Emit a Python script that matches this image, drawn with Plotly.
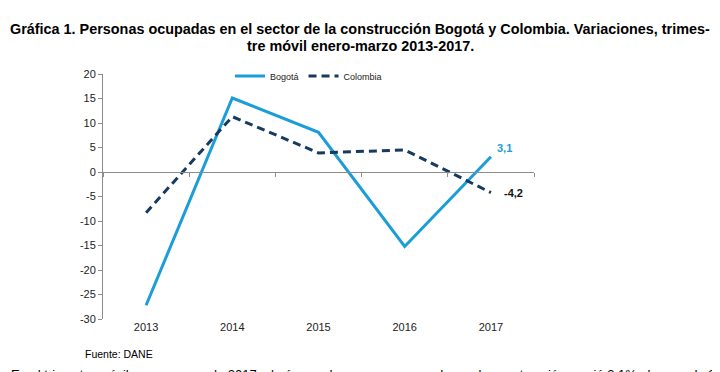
import plotly.graph_objects as go

years = ["2013", "2014", "2015", "2016", "2017"]
bogota = [-27.2, 15.1, 8.1, -15.2, 3.1]
colombia = [-8.3, 11.3, 3.9, 4.5, -4.2]
y_ticks = [20, 15, 10, 5, 0, -5, -10, -15, -20, -25, -30]
y_ticktext = [str(v) for v in y_ticks]
label_bogota = "3,1"
label_colombia = "-4,2"

BLUE = "#1B9DD9"
NAVY = "#173A5E"
GRAY = "#8C8C8C"
FONT = "Liberation Sans, Arial, sans-serif"

# page offset (body margin) and plot area in page pixels
OFF = 8
PL, PR, PT, PB = 103, 534, 74, 319
W, H = 720 - OFF, 372 - OFF
L, R, T, B = PL - OFF, PR - OFF, PT - OFF, PB - OFF


def py(p):
    """page pixel y -> paper y"""
    return (PB - p) / (PB - PT)


def px(p):
    """page pixel x -> paper x"""
    return (p - PL) / (PR - PL)


last = len(years) - 1  # category index of the last year

fig = go.Figure()
fig.add_trace(go.Scatter(x=years, y=bogota, name="Bogotá", mode="lines",
                         line=dict(color=BLUE, width=3), xaxis="x2"))
fig.add_trace(go.Scatter(x=years, y=colombia, name="Colombia", mode="lines",
                         line=dict(color=NAVY, width=3, dash="8px,5px"), xaxis="x2"))
# helper trace so the zero-line axis gets drawn
fig.add_trace(go.Scatter(x=years, y=colombia, mode="none", showlegend=False,
                         hoverinfo="skip", xaxis="x"))

annotations = [
    dict(x=last, y=bogota[last], xref="x2", yref="y", text="<b>%s</b>" % label_bogota,
         showarrow=False, xanchor="left", yanchor="bottom", xshift=4, yshift=1,
         font=dict(family=FONT, size=11, color=BLUE)),
    dict(x=last, y=colombia[last], xref="x2", yref="y", text="<b>%s</b>" % label_colombia,
         showarrow=False, xanchor="left", yanchor="middle", xshift=11, yshift=0,
         font=dict(family=FONT, size=11, color="#111111")),
    dict(x=px(360), xref="paper", y=py(29), yref="paper", xanchor="center", yanchor="middle",
         text="<b>Gráfica 1. Personas ocupadas en el sector de la construcción Bogotá y Colombia. Variaciones, trimes-</b>",
         showarrow=False, font=dict(family=FONT, size=14.4, color="#000000")),
    dict(x=px(360), xref="paper", y=py(46), yref="paper", xanchor="center", yanchor="middle",
         text="<b>tre móvil enero-marzo 2013-2017.</b>",
         showarrow=False, font=dict(family=FONT, size=14.4, color="#000000")),
    dict(x=px(362), xref="paper", y=py(-1), yref="paper", xanchor="center", yanchor="middle",
         text="<b>en la construcción.</b>",
         showarrow=False, font=dict(family=FONT, size=17, color="#000000")),
    dict(x=px(83), xref="paper", y=py(354), yref="paper", xanchor="left", yanchor="middle",
         text="Fuente: DANE", showarrow=False,
         font=dict(family=FONT, size=10.5, color="#000000")),
    dict(x=px(9), xref="paper", y=py(374), yref="paper", xanchor="left", yanchor="middle",
         text="En el trimestre móvil enero-marzo de 2017, el número de personas ocupadas en la construcción creció 3,1% al pasar de 244.713 a",
         showarrow=False, font=dict(family=FONT, size=13, color="#000000")),
]

fig.update_layout(
    width=W, height=H,
    margin=dict(l=L, r=W - R, t=T, b=H - B, autoexpand=False),
    paper_bgcolor="white", plot_bgcolor="white",
    font=dict(family=FONT, size=11, color="#222222"),
    showlegend=True,
    legend=dict(orientation="h", x=px(230), y=py(76), xanchor="left", yanchor="middle",
                font=dict(family=FONT, size=9, color="#222222"),
                bgcolor="rgba(0,0,0,0)", tracegroupgap=0),
    xaxis=dict(type="category", categoryorder="array", categoryarray=years,
               range=[-0.5, 4.5], anchor="free", position=py(172),
               showline=True, linecolor=GRAY, linewidth=1,
               ticks="outside", tickson="boundaries", ticklen=4, tickcolor=GRAY,
               showticklabels=False, showgrid=False, zeroline=False, fixedrange=True),
    xaxis2=dict(type="category", categoryorder="array", categoryarray=years,
                range=[-0.5, 4.5], overlaying="x", side="bottom", anchor="y",
                showline=False, ticks="", showgrid=False, zeroline=False,
                tickfont=dict(family=FONT, size=11, color="#222222")),
    yaxis=dict(range=[-30, 20], tickvals=y_ticks, ticktext=y_ticktext,
               showline=True, linecolor=GRAY, linewidth=1,
               ticks="outside", ticklen=4, tickcolor=GRAY,
               showgrid=False, zeroline=False,
               tickfont=dict(family=FONT, size=11, color="#222222")),
    annotations=annotations,
)

fig.write_html("out.html")
